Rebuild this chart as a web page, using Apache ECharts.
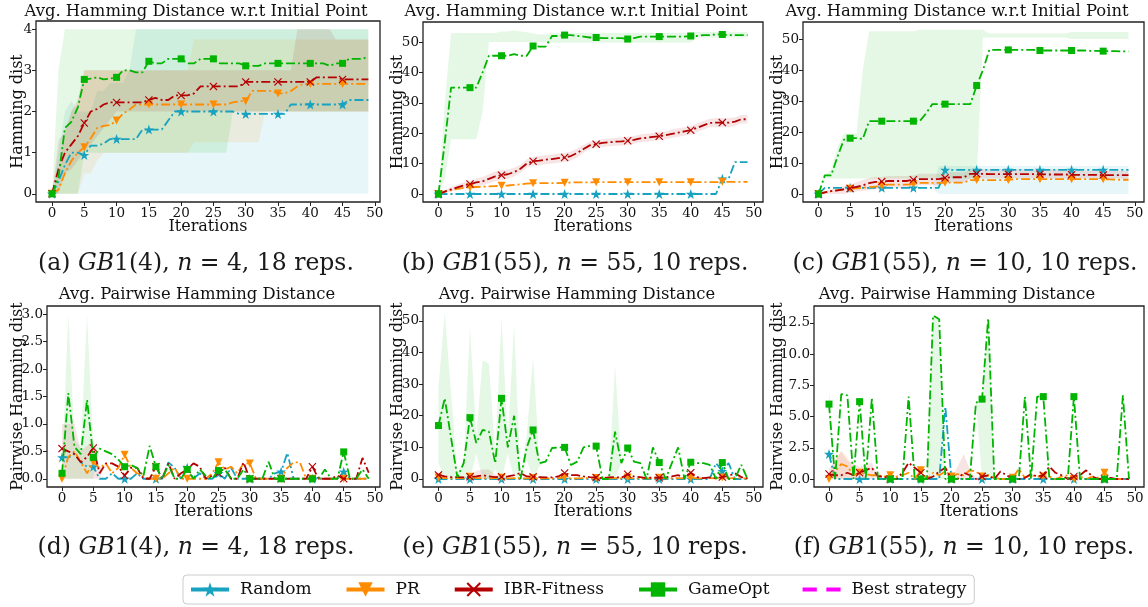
<!DOCTYPE html>
<html>
<head>
<meta charset="utf-8">
<script src="https://cdn.jsdelivr.net/npm/echarts@6/dist/echarts.min.js"></script>
<style>
html, body { margin: 0; padding: 0; background: #fff; }
#chart { width: 1148px; height: 607px; }
</style>
</head>
<body>
<div id="chart"></div>
<script>
// Iterations shown on every panel
const iterations = [0,1,2,3,4,5,6,7,8,9,10,11,12,13,14,15,16,17,18,19,20,21,22,23,24,
  25,26,27,28,29,30,31,32,33,34,35,36,37,38,39,40,41,42,43,44,45,46,47,48,49];
const xTicks = [0, 5, 10, 15, 20, 25, 30, 35, 40, 45, 50];

// (a) GB1(4), n = 4 : Hamming distance to initial point
const aRandom = [0,0.3,0.7,1.0,1.0,0.94,1.17,1.17,1.22,1.33, 1.33,1.33,1.33,1.33,1.56,1.56,1.56,1.56,1.78,2.0,
  2.0,2.0,2.0,2.0,2.0,2.0,2.0,2.0,2.0,1.94, 1.94,1.94,1.94,1.94,1.94,1.94,1.94,2.17,2.17,2.17,
  2.17,2.17,2.17,2.17,2.17,2.17,2.28,2.28,2.28,2.28];
const aPR = [0,0.1,0.5,0.8,1.0,1.13,1.35,1.6,1.65,1.67, 1.78,1.95,2.05,2.17,2.17,2.17,2.17,2.17,2.17,2.17,
  2.17,2.17,2.17,2.17,2.17,2.17,2.17,2.17,2.22,2.25, 2.25,2.5,2.5,2.5,2.5,2.44,2.44,2.5,2.61,2.67,
  2.67,2.67,2.67,2.67,2.67,2.67,2.67,2.67,2.67,2.67];
const aIBR = [0,0.6,1.0,1.2,1.4,1.72,2.0,2.06,2.17,2.22, 2.22,2.22,2.22,2.22,2.22,2.28,2.33,2.28,2.28,2.39,
  2.39,2.39,2.44,2.61,2.61,2.61,2.61,2.61,2.61,2.61, 2.72,2.72,2.72,2.72,2.72,2.72,2.72,2.72,2.72,2.72,
  2.72,2.83,2.83,2.83,2.83,2.78,2.78,2.78,2.78,2.78];
const aGame = [0,0.4,1.6,1.75,2.1,2.78,2.8,2.83,2.78,2.8, 2.83,3.0,3.0,2.95,2.95,3.22,3.17,3.17,3.28,3.28,
  3.28,3.17,3.17,3.28,3.28,3.28,3.17,3.17,3.17,3.17, 3.11,3.11,3.11,3.17,3.17,3.17,3.17,3.17,3.17,3.17,
  3.17,3.17,3.17,3.11,3.17,3.17,3.28,3.28,3.28,3.33];
// shaded spread (lower / upper); missing entries sit on the line
const aRandomLo = [0,0,0,0,0,0,0,0,0,0, 0,0,0,0,0,0,0,0,0,0, 0,0,0,0,0,0,0,0,0,0, 0,0,0,0,0,0,0,0,0,0, 0,0,0,0,0,0,0,0,0,0];
const aRandomHi = [0,1,2,2.25,2,2,2,2.5,2.5,2.7, 2.7,2.7,3,4,4,4,4,4,4,4, 4,4,4,4,4,4,4,4,4,4, 4,4,4,4,4,4,4,4,4,4, 4,4,4,4,4,4,4,4,4,4];
const aPRLo = [0,0,0,0,0,0.5,0.5,0.8,1,1, 1,1,1,1,1,1,1,1,1,1, 1,1,1.25,1.25,1.25,1.25,1.25,1.25,1.25,1.25,
  1.25,1.25,1.25,2,2,2,2,2,2,2, 2,2,2,2,2,2,2,2,2,2];
const aPRHi = [0,0.5,1.5,2,2.2,3,3,3,3,3, 3,3,3,3,3,3,3,3,3,3, 3,3,3.75,3.75,3.75,3.75,3.75,3.75,3.75,3.75,
  3.75,3.75,3.75,3.75,3.75,3.75,3.75,3.75,3.75,3.75, 3.75,3.75,3.75,3.75,3.75,3.75,3.75,3.75,3.75,3.75];
const aIBRLo = [0,0,0.5,0.6,0.8,1,1.2,1.4,1.6,1.8, 2,2,2,2,2,2,2,2,2,2, 2,2,2,2,2,2,2,2,2,2, 2,2,2,2,2,2,2,2,2,2, 2,2,2,2,2,2,2,2,2,2];
const aIBRHi = [0,1.3,1.5,2,2.3,3,3,3,3,3, 3,3,3,3,3,3,3,3,3,3, 3,3,3,3,3,3,3,3,3,3, 3,3,3,3,3,3,3,3,4,4,
  4,4,4,4,3.75,3.75,3.75,3.75,3.75,3.75];
const aGameLo = [0,0,0,0,0,1,1,1,1,1, 1,1,1,1,1,1,1,1,1,1, 1,1,1,1,1,1,1,1,2,2, 2,2,2,2,2,2,2,2,2,2, 2,2,2,2,2,2,2,2,2,2];
const aGameHi = [0,3,4,4,4,4,4,4,4,4, 4,4,4,4,4,4,4,4,4,4, 4,4,4,4,4,4,4,4,4,4, 4,4,4,4,4,4,4,4,4,4, 4,4,4,4,4,4,4,4,4,4];

// (b) GB1(55), n = 55
const bRandom = [0,0,0,0,0,0,0,0,0,0, 0,0,0,0,0,0,0,0,0,0, 0,0,0,0,0,0,0,0,0,0, 0,0,0,0,0,0,0,0,0,0,
  0,0,0,0,0,5,5,10.5,10.5,10.5];
const bPR = [0,0.8,1.3,1.7,2.0,2.2,2.3,2.4,2.5,2.6, 2.7,2.8,3.0,3.2,3.4,3.5,3.6,3.6,3.6,3.6,
  3.7,3.8,3.8,3.8,3.8,3.9,3.9,3.9,3.9,3.9, 3.9,3.9,3.9,3.9,3.9,3.9,3.9,3.9,3.9,3.9,
  3.9,3.9,3.9,3.9,3.9,4.0,4.0,4.0,4.0,4.0];
const bIBR = [0,0.8,1.5,2.2,2.8,3.3,3.8,4.2,5.0,5.8, 6.2,6.5,7.2,8.3,10.0,10.8,11.0,11.3,11.5,11.8,
  12.0,12.5,13.5,14.8,16.0,16.4,16.8,17.0,17.2,17.3, 17.5,17.8,18.3,18.5,18.8,19.0,19.3,19.8,20.2,20.6,
  21.0,21.8,22.6,23.4,23.5,23.5,23.5,23.8,24.6,24.6];
const bGame = [0,17,35,35,35,35,35,40,45.5,45.5, 45.5,45.5,46,45.5,45.5,48.7,48.5,48.5,52,52,
  52.3,52.3,52,51.8,51.5,51.5,51.3,51.3,51.3,51.3, 51,51.3,51.8,51.8,51.8,51.8,51.8,51.8,51.8,51.8,
  52,52,52.3,52.3,52.5,52.5,52.3,52.3,52.3,52.3];
const bIBRLo = [0,0.3,0.8,1.3,1.8,2.2,2.5,2.8,3.5,4.2, 4.6,5.0,5.8,7.0,8.6,9.3,9.5,9.8,10.0,10.3,
  10.5,11.0,12.0,13.5,14.8,15.2,15.5,15.7,15.9,16.0, 16.2,16.5,17.0,17.2,17.5,17.7,18.0,18.4,18.8,19.2,
  19.6,20.4,21.2,22.0,22.0,22.0,22.0,22.4,23.2,23.2];
const bIBRHi = [0,1.3,2.2,3.1,3.8,4.4,5.1,5.6,6.5,7.4, 7.8,8.0,8.6,9.6,11.4,12.3,12.5,12.8,13.0,13.3,
  13.5,14.0,15.0,16.1,17.2,17.6,18.1,18.3,18.5,18.6, 18.8,19.1,19.6,19.8,20.1,20.3,20.6,21.2,21.6,22.0,
  22.4,23.2,24.0,24.8,25.0,25.0,25.0,25.2,26.0,26.0];
const bGameLo = [0,5,18,18,18,18,18,27,50,50, 50,50,50,50,50,50,50,50,49.8,49.8,
  49.8,49.8,49.8,49.8,49.8,49.8,49.8,49.8,49.8,49.8, 49.8,49.8,49.8,49.8,49.8,49.8,49.8,49.8,49.8,49.8,
  49.8,51.5,51.5,51.5,51.5,51.5,51.5,51.5,51.5,51.5];
const bGameHi = [0,30,53,53,53,53,53,53,53,53, 53.5,53.5,53.8,53.5,53.2,52.8,52.5,52.5,53,53,
  53,53,53,53,53,53,53,53,53,53, 53,53,53,53,53,53,53,53,53,53,
  53,53.3,53.3,53.3,53.3,53.3,53.3,53.3,53.3,53.3];

// (c) GB1(55), n = 10
const cRandom = [0,2,2,2,2,2,2,2,2,2, 2,2,2,2,2,2,2,2,2,2, 7.8,7.8,7.8,7.8,7.8,7.8,7.8,7.8,7.8,7.8,
  7.8,7.8,7.8,7.8,7.8,7.8,7.8,7.8,7.8,7.8, 7.8,7.8,7.8,7.8,7.8,7.8,7.8,7.8,7.8,7.8];
const cPR = [0,0.5,0.9,1.2,1.5,1.7,1.8,2.0,2.2,2.4, 2.6,3.0,3.0,3.0,3.0,3.2,3.6,3.6,3.6,3.6,
  3.6,3.7,3.7,3.7,4.5,4.5,4.5,4.5,4.5,4.5, 4.5,4.8,4.8,4.8,4.8,4.8,4.8,4.8,4.8,4.8,
  4.8,4.8,4.8,4.8,4.8,4.8,4.7,4.6,4.6,4.6];
const cIBR = [0,0.5,0.9,1.2,1.5,1.8,2.3,2.8,3.5,3.9, 4.0,4.2,4.2,4.2,4.2,4.6,4.8,4.8,4.8,4.8,
  5.2,5.4,5.4,5.4,6.5,6.5,6.5,6.4,6.4,6.4, 6.4,6.4,6.4,6.4,6.4,6.4,6.3,6.3,6.3,6.3,
  6.2,6.2,6.2,6.2,6.2,6.1,6.1,6.1,6.1,6.1];
const cGame = [0,6,6,12,17.5,18,18,17.8,23.5,23.5, 23.5,23.5,23.5,23.5,23.5,23.5,23.5,26,29,29,
  29,29,29,29,29,35,40,46.5,46.5,46.5, 46.5,46.5,46.5,46.5,46.5,46.3,46.3,46.3,46.3,46.3,
  46.3,46.3,46.3,46.2,46.2,46.1,46.1,46.1,46.0,46.0];
const cRandomLo = [0,2,2,2,2,2,2,2,2,2, 2,2,2,2,2,2,2,2,2,0, 0,0,0,0,0,0,0,0,0,0, 0,0,0,0,0,0,0,0,0,0, 0,0,0,0,0,0,0,0,0,0];
const cRandomHi = [0,2,2,2,2,2,2,2,2,2, 2,2,2,2,2,2,2,2,2,9, 9,9,9,9,9,9,9,9,9,9, 9,9,9,9,9,9,9,9,9,9, 9,9,9,9,9,9,9,9,9,9];
const cIBRLo = [0,0,0,0,0,0.5,0.8,1,1.2,1.5, 1.8,2,2,2,2,2.5,2.8,2.8,2.8,2.8, 3.5,3.8,3.8,3.8,5,5,5,5,5,5,
  5,5,5,5,5,5,5,5,5,5, 5,5,5,5,5,5,5,5,5,5];
const cIBRHi = [0,1,1.5,2,2.5,3,3.8,4.5,5.2,5.5, 5.5,5.8,5.8,5.8,5.8,6,6.5,6.5,6.5,6.5, 7,7,7,7,8,8,8,8,8,8,
  8,8,8,8,8,8,8,8,8,8, 7.5,7.5,7.5,7.5,7.5,7.5,7.5,7.5,7.5,7.5];
const cGameLo = [0,5,5,5,5,5,5,5,5,5, 5,5,5,5,5,5,5,5,5,5, 5,5,5,5,5,5,50.5,50.5,50.5,50.5,
  50.5,50.5,50.5,50.5,50.5,50.5,50.5,50.5,50.5,50.5, 50,50,50,50,50,50,50,50,50,50];
const cGameHi = [0,6,8,15,19.5,19.5,19.5,40,52.5,52.5, 52.5,52.5,52.5,52.5,52.5,52.5,53,53,53,53,
  53,53,53,53,53,53,53,51.8,51.8,51.8, 51.8,51.8,51.8,51.8,51.8,51.8,51.8,51.8,51.8,51.8,
  52.3,52.3,52.3,52.3,52.3,52.3,52.3,52.3,52.3,52.3];

// (d) GB1(4), n = 4 : pairwise distance
const dRandom = [0.39,0.39,0.45,0.3,0.22,0.22,0,0,0.1,0, 0,0,0.1,0,0,0,0,0.3,0.2,0,
  0.2,0,0.1,0,0,0.1,0,0.2,0,0, 0,0,0,0,0.1,0.13,0.47,0,0,0, 0,0,0,0,0,0.13,0,0,0,0];
const dPR = [0,0.4,0.5,0.3,0.1,0.3,0.2,0.28,0.1,0.2, 0.44,0.2,0.1,0.05,0,0,0,0.1,0.2,0,
  0,0,0,0,0.1,0.3,0.17,0.22,0.1,0.28, 0.28,0,0,0,0,0,0.2,0.3,0.3,0, 0,0,0,0,0,0,0,0,0,0];
const dIBR = [0.55,0.5,0.45,0.3,0.4,0.56,0.1,0.28,0.28,0.22, 0.06,0.2,0.2,0,0,0.22,0,0.28,0,0.1,
  0.17,0.28,0.22,0,0.06,0.1,0.2,0,0,0.3, 0,0,0,0,0,0,0,0,0,0, 0.22,0,0,0,0.06,0,0,0,0.38,0.11];
const dGame = [0.1,1.56,0.58,0.45,1.44,0.39,0.55,0.5,0.45,0.35, 0.22,0.25,0.2,0.05,0.6,0.22,0,0.25,0,0,
  0.17,0,0.17,0.05,0,0.15,0.17,0,0,0.17, 0,0,0,0.31,0,0,0,0,0,0, 0,0,0.17,0,0,0.49,0,0,0.17,0];
const dIBRLo = [0,0,0,0,0,0,0];
const dIBRHi = [1.0,1.0,1.0,0.5,0.6,0.7,0.2];
const dGameLo = [0,0,0,0,0,0];
const dGameHi = [0.2,3.0,0.7,0.6,3.0,0.6];

// (e) GB1(55), n = 55 : pairwise distance
const eRandom = [0,0,0,0,0,0,0,0,0,0, 0,0,0,0,0,0,0,0,0,0, 0,0,0,0,0,0,0,0,0,0, 0,0,0,0,0,0,0,0,0,0,
  0,0,0,0,5,2.5,5,0,0,0];
const ePR = [0.5,0.3,0.2,0.3,0.2,0.7,0.3,0.3,0.2,0.3, 0.4,0.2,0.3,0.2,0.2,0.3,0.2,0.2,0.2,0.3,
  0.5,0.2,0.2,0.3,0.2,0.3,0.2,0.2,0.3,0.2, 0.5,0.2,0.2,0.3,0.2,0.4,0.2,0.2,0.3,0.2,
  0.4,0.2,0.2,0.3,0.2,0.5,0.2,0.3,0.2,0.2];
const eIBR = [1.3,0.8,0.6,0.6,0.5,0.7,0.8,1.2,0.8,0.6, 0.7,0.8,1.2,1.9,0.8,0.7,0.6,0.5,0.5,0.8,
  1.9,1.2,1.2,0.8,0.6,0.5,0.3,0.5,0.6,0.4, 1.5,0.8,0.6,0.3,0.5,0.4,0.5,0.8,1.2,0.5,
  2.0,0.6,0.3,0.5,0.3,0.6,1.0,1.8,0.6,0.2];
const eGame = [16.9,25.5,13,0.5,5,19.4,11.4,15.5,15,5, 25.5,10,20,0,10,15.5,5,5.5,9.8,10,
  10,4.4,5.5,10,10.5,10.4,0,0,15,5, 9.8,5.5,5,0,10,5.2,0,5,10,0,
  5.3,5,5,4.5,0,5.2,0,0,4.5,0];
const eIBRLo = [null,null,null,null,null,0,0,0,0,0];
const eIBRHi = [null,null,null,null,null,1.5,2.5,3,3,1.5];
const eGameLo = [5,0,0,0,0,0,8,0,0,3, 0,8,0,0,6,0,4,null,null,null, null,null,null,null,null,null,null,null,0];
const eGameHi = [29,52.5,27,2,6,48,14,37.5,36.5,8, 51,12,49,1,14,38.5,6,null,null,null, null,null,null,null,null,null,null,null,36];

// (f) GB1(55), n = 10 : pairwise distance
const fRandom = [2.0,0,0,0,0,0,0,0,0,0, 0,0,0,0,0,0,0,0,0,5.8, 0,0,0,0,0,0,0,0,0,0,
  0,0,0,0,0,0,0,0,0,0, 0,0,0,0,0,0,0,0,0,0];
const fPR = [0,0.6,1.2,1.0,0.3,0.5,0.4,0.3,0.3,0.2, 0.3,0.2,0.3,0.5,0,0.7,0,0.5,0.3,0.6,
  0.2,0.4,0.3,0.7,0.6,0.2,0.3,0.1,0,0, 0.1,0.8,0.1,0.3,0.2,0.2,0.2,0,0.2,0.3,
  0,0.2,0,0.2,0.1,0.5,0.1,0,0,0];
const fIBR = [0.4,0.3,0.3,0.5,0.3,0.5,0.7,0.9,0.2,0.2, 0,0,0.5,1.3,0.9,0.5,0,0.2,0.6,0.9,
  0,0,0.5,0.3,0,0.2,0.3,0,0.6,0.3, 0,0,0.1,0.4,0.2,0.3,1.0,0.5,0.3,0,
  0.2,0.3,0.7,0.2,0,0,0.1,0,0,0];
const fGame = [6.0,0,6.8,6.7,0,6.2,0,6.5,0,0, 0,0,0,6.6,0,0,0,13.1,12.8,0,
  0,0,0,0,6.1,6.4,12.9,0,0,0, 0,0,6.6,0,6.6,6.6,0,0,0,0,
  6.6,0,0,0,0,0,0,0,6.7,0];
const fPRLo = [0,0,0,0,0];
const fPRHi = [0.5,1.5,2.3,1.8,0.8];
const fIBRLo = [0,0,0,0,0,0,0,0, null,null,null,null,null,null,null,null,null,null,null,null,null, 0,0,0];
const fIBRHi = [0.8,1.5,2.2,1.5,1.2,1.0,1.2,1.3, null,null,null,null,null,null,null,null,null,null,null,null,null, 1.0,2.0,0.8];
const fGameLo = [4.7, null,null,null,null,null,null,null,null,null,null,null,null,null,null,null,null, 0,0,
  null,null,null,null,null,null, 0,0];
const fGameHi = [7.3, null,null,null,null,null,null,null,null,null,null,null,null,null,null,null,null, 13.1,12.8,
  null,null,null,null,null,null, 6.4,12.9];

// y tick labels
const yTicksSmall = [0, 1, 2, 3, 4];
const yTicksBig = [0, 10, 20, 30, 40, 50];
const yTicksPairSmall = [0, 0.5, 1.0, 1.5, 2.0, 2.5, 3.0];
const yTicksPairMid = [0, 2.5, 5.0, 7.5, 10.0, 12.5];

const SERIF = '"DejaVu Serif", serif';
const STAR = 'path://M50,2 L61.8,36.2 L97.6,36.2 L68.6,57.6 L79.4,92 L50,71 L20.6,92 L31.4,57.6 L2.4,36.2 L38.2,36.2 Z';
const CROSS = 'path://M10,0 L50,40 L90,0 L100,10 L60,50 L100,90 L90,100 L50,60 L10,100 L0,90 L40,50 L0,10 Z';

const methods = [
  { name: 'Random', color: '#17a2bf', band: 'rgba(23,162,191,0.1)', symbol: STAR, size: 10, rotate: 0 },
  { name: 'PR', color: '#ff8c00', band: 'rgba(255,140,0,0.1)', symbol: 'triangle', size: 8, rotate: 180 },
  { name: 'IBR-Fitness', color: '#b40000', band: 'rgba(180,0,0,0.1)', symbol: CROSS, size: 8, rotate: 0 },
  { name: 'GameOpt', color: '#00b400', band: 'rgba(0,180,0,0.1)', symbol: 'rect', size: 7, rotate: 0 }
];

const TITLE_TOP = 'Avg. Hamming Distance w.r.t Initial Point';
const TITLE_BOT = 'Avg. Pairwise Hamming Distance';

const panels = [
  { grid: { left: 36, top: 21, width: 344, height: 181 }, x: [-2.48, 50.8], y: [-0.2, 4.2], yTicks: yTicksSmall, dec: 0,
    yName: 'Hamming dist', yGap: 18.5, title: TITLE_TOP, tx: 196, ty: 12,
    cap: ['a', '1(4), ', '4', '18'], cx: 196, cy: 264,
    lines: [aRandom, aPR, aIBR, aGame],
    bands: [[aRandomLo, aRandomHi], [aPRLo, aPRHi], [aIBRLo, aIBRHi], [aGameLo, aGameHi]] },
  { grid: { left: 423, top: 22, width: 340, height: 180 }, x: [-2.45, 51.45], y: [-2.63, 56.6], yTicks: yTicksBig, dec: 0,
    yName: 'Hamming dist', yGap: 25.5, title: TITLE_TOP, tx: 576, ty: 12,
    cap: ['b', '1(55), ', '55', '10'], cx: 575, cy: 264,
    lines: [bRandom, bPR, bIBR, bGame],
    bands: [null, null, [bIBRLo, bIBRHi], [bGameLo, bGameHi]] },
  { grid: { left: 803, top: 22, width: 341, height: 180 }, x: [-2.45, 51.45], y: [-2.58, 55.5], yTicks: yTicksBig, dec: 0,
    yName: 'Hamming dist', yGap: 25.5, title: TITLE_TOP, tx: 957, ty: 12,
    cap: ['c', '1(55), ', '10', '10'], cx: 965, cy: 264,
    lines: [cRandom, cPR, cIBR, cGame],
    bands: [[cRandomLo, cRandomHi], null, [cIBRLo, cIBRHi], [cGameLo, cGameHi]] },
  { grid: { left: 47, top: 306, width: 333, height: 181 }, x: [-2.4, 50.8], y: [-0.15, 3.15], yTicks: yTicksPairSmall, dec: 1,
    yName: 'Pairwise Hamming dist', yGap: 29.5, title: TITLE_BOT, tx: 197, ty: 295,
    cap: ['d', '1(4), ', '4', '18'], cx: 196, cy: 548,
    lines: [dRandom, dPR, dIBR, dGame],
    bands: [null, null, [dIBRLo, dIBRHi], [dGameLo, dGameHi]] },
  { grid: { left: 423, top: 306, width: 340, height: 181 }, x: [-2.45, 51.45], y: [-2.53, 54.7], yTicks: yTicksBig, dec: 0,
    yName: 'Pairwise Hamming dist', yGap: 25.5, title: TITLE_BOT, tx: 577, ty: 295,
    cap: ['e', '1(55), ', '55', '10'], cx: 575, cy: 548,
    lines: [eRandom, ePR, eIBR, eGame],
    bands: [null, null, [eIBRLo, eIBRHi], [eGameLo, eGameHi]] },
  { grid: { left: 814, top: 306, width: 330, height: 181 }, x: [-2.45, 51.45], y: [-0.64, 13.86], yTicks: yTicksPairMid, dec: 1,
    yName: 'Pairwise Hamming dist', yGap: 36.5, title: TITLE_BOT, tx: 957, ty: 295,
    cap: ['f', '1(55), ', '10', '10'], cx: 964, cy: 548,
    lines: [fRandom, fPR, fIBR, fGame],
    bands: [null, [fPRLo, fPRHi], [fIBRLo, fIBRHi], [fGameLo, fGameHi]] }
];

const grids = [], xAxes = [], yAxes = [], series = [], graphics = [];

panels.forEach((p, gi) => {
  grids.push(Object.assign({ show: true, borderColor: '#222', borderWidth: 1.3, backgroundColor: 'transparent' }, p.grid));

  xAxes.push({
    type: 'value', gridIndex: gi, min: p.x[0], max: p.x[1],
    axisLine: { show: false, onZero: false }, splitLine: { show: false },
    axisTick: { customValues: xTicks, length: 4, lineStyle: { color: '#222' } },
    axisLabel: { customValues: xTicks, margin: 4, fontFamily: SERIF, fontSize: 13.5, color: '#111' },
    name: 'Iterations', nameLocation: 'middle', nameGap: 17, nameMoveOverlap: false,
    nameTextStyle: { fontFamily: SERIF, fontSize: 16, color: '#111', verticalAlign: 'top' }
  });

  yAxes.push({
    type: 'value', gridIndex: gi, min: p.y[0], max: p.y[1],
    axisLine: { show: false, onZero: false }, splitLine: { show: false },
    axisTick: { customValues: p.yTicks, length: 4, lineStyle: { color: '#222' } },
    axisLabel: {
      customValues: p.yTicks, margin: 4, fontFamily: SERIF, fontSize: 13.5, color: '#111',
      formatter: v => Number(v).toFixed(p.dec)
    },
    name: p.yName, nameLocation: 'middle', nameGap: p.yGap, nameMoveOverlap: false,
    nameTextStyle: { fontFamily: SERIF, fontSize: 16, color: '#111', verticalAlign: 'middle' }
  });

  // shaded spreads first so the lines sit on top
  methods.forEach((m, k) => {
    const band = p.bands[k];
    if (!band) return;
    const vals = p.lines[k];
    const lo = vals.map((v, i) => (band[0][i] == null ? v : band[0][i]));
    const hi = vals.map((v, i) => (band[1][i] == null ? v : band[1][i]));
    series.push({
      type: 'custom', name: '_band', xAxisIndex: gi, yAxisIndex: gi, silent: true, z: 1,
      data: iterations.map(i => [i, lo[i], hi[i]]),
      encode: { x: 0, y: [1, 2] },
      renderItem: (params, api) => {
        if (params.dataIndex !== 0) return null;
        const top = iterations.map(i => api.coord([i, hi[i]]));
        const bottom = iterations.map(i => api.coord([i, lo[i]])).reverse();
        return { type: 'polygon', shape: { points: top.concat(bottom) }, style: { fill: m.band } };
      }
    });
  });

  methods.forEach((m, k) => {
    const vals = p.lines[k];
    series.push({
      type: 'line', name: m.name, xAxisIndex: gi, yAxisIndex: gi,
      data: iterations.map(i => (i % 5 === 0 ? [i, vals[i]] : { value: [i, vals[i]], symbol: 'none' })),
      symbol: m.symbol, symbolSize: m.size, symbolRotate: m.rotate, showSymbol: true,
      lineStyle: { color: m.color, width: 1.8, type: [9, 3, 2, 3] },
      itemStyle: { color: m.color },
      z: 3 + k
    });
  });

  graphics.push({
    type: 'text', x: p.tx, y: p.ty,
    style: { text: p.title, fontFamily: SERIF, fontSize: 16.4, fill: '#111',
      align: 'center', verticalAlign: 'middle', textAlign: 'center', textVerticalAlign: 'middle' }
  });
  graphics.push({
    type: 'text', x: p.cx, y: p.cy,
    style: {
      text: '(' + p.cap[0] + ') {i|GB}' + p.cap[1] + '{i|n} = ' + p.cap[2] + ', ' + p.cap[3] + ' reps.',
      fontFamily: SERIF, fontSize: 23.5, fill: '#1a1a1a',
      align: 'center', verticalAlign: 'middle', textAlign: 'center', textVerticalAlign: 'middle',
      rich: { i: { fontFamily: SERIF, fontSize: 23.5, fontStyle: 'italic', fill: '#1a1a1a' } }
    }
  });
});

// legend-only entry
series.push({
  type: 'line', name: 'Best strategy', xAxisIndex: 0, yAxisIndex: 0, data: [], symbol: 'none',
  lineStyle: { color: '#ff00ff', type: 'dashed', width: 2 }, itemStyle: { color: '#ff00ff' }
});

const solid = { width: 4, type: 'solid' };
const chart = echarts.init(document.getElementById('chart'));
chart.setOption({
  animation: false,
  backgroundColor: '#fff',
  grid: grids,
  xAxis: xAxes,
  yAxis: yAxes,
  series: series,
  graphic: graphics,
  legend: {
    left: 183, top: 575, itemWidth: 38, itemHeight: 18, itemGap: 33,
    padding: [6, 8, 6, 6], borderColor: '#cccccc', borderWidth: 1, borderRadius: 4,
    textStyle: { fontFamily: SERIF, fontSize: 17, color: '#111', padding: [0, 0, 0, 6] },
    data: [
      { name: 'Random', lineStyle: solid },
      { name: 'PR', lineStyle: solid },
      { name: 'IBR-Fitness', lineStyle: solid },
      { name: 'GameOpt', lineStyle: solid },
      { name: 'Best strategy', icon: 'path://M0,0 L15,0 L15,4 L0,4 Z M25,0 L40,0 L40,4 L25,4 Z',
        itemStyle: { color: '#ff00ff' } }
    ]
  }
});
</script>
</body>
</html>
